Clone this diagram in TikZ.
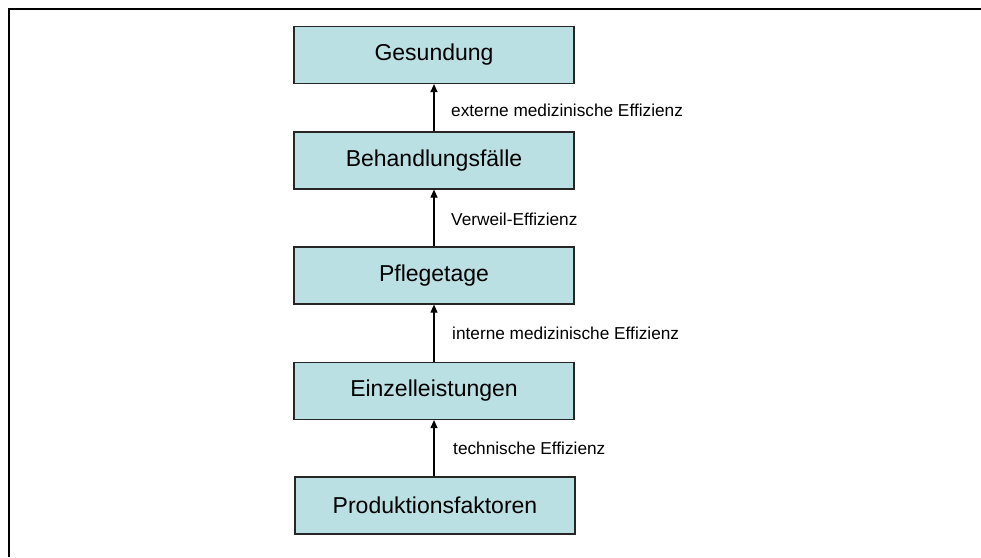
\documentclass[tikz,border=0pt]{standalone}
\usepackage{fontspec}
\setmainfont{Liberation Sans}
\usetikzlibrary{arrows.meta}
\definecolor{boxfill}{RGB}{187,224,227}
\tikzset{
  stage/.style={draw=black!85, line width=1.2pt, fill=boxfill, minimum width=280pt, minimum height=57pt, inner sep=0pt, font=\fontsize{23}{26}\selectfont, text=black},
  lbl/.style={anchor=west, inner sep=0pt, font=\fontsize{17.25}{20}\selectfont, text=black},
  arr/.style={line width=1.2pt, -{Triangle[length=8pt,width=7pt]}},
  frame/.style={line width=2.2pt, black}
}
\begin{document}
\begin{tikzpicture}[x=1pt,y=-1pt]
\useasboundingbox (0,0) rectangle (981,557);
\coordinate (fa) at (9,557);
\coordinate (fb) at (9,9);
\coordinate (fc) at (981,9);
\draw[frame] (fa) -- (fb) -- (fc);
\node[stage] (g) at (434,55) {Gesundung};
\node[stage] (b) at (434,160.5) {Behandlungsfälle};
\node[stage] (p) at (434,275.5) {Pflegetage};
\node[stage] (e) at (434,391) {Einzelleistungen};
\node[stage] (f) at (435,505.5) {Produktionsfaktoren};
\draw[arr] (b.north) -- (g.south);
\draw[arr] (p.north) -- (b.south);
\draw[arr] (e.north) -- (p.south);
\draw[arr] (f.north -| e.south) -- (e.south);
\node[lbl] (l1) at (451,110) {externe medizinische Effizienz};
\node[lbl] (l2) at (451,219) {Verweil-Effizienz};
\node[lbl] (l3) at (452,333) {interne medizinische Effizienz};
\node[lbl] (l4) at (453,448) {technische Effizienz};
\end{tikzpicture}
\end{document}
